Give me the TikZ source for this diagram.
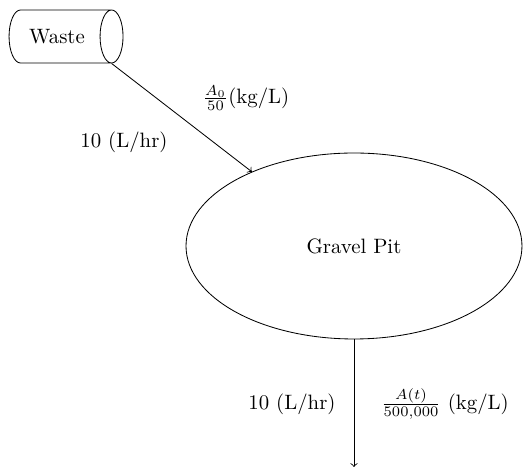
\documentclass[tikz,border=0pt]{standalone}
\usetikzlibrary{shapes.geometric}
\begin{document}
\begin{tikzpicture}[x=0.4807pt,y=-0.4807pt,
  tank/.style={draw,cylinder,shape aspect=1,minimum height=54.8pt,minimum width=25.5pt,inner sep=2pt},
  pit/.style={draw,ellipse,inner sep=0pt,minimum width=161.5pt,minimum height=89.4pt},
  lbl/.style={inner sep=1pt},
  flow/.style={->}]
\useasboundingbox (0,0) rectangle (523,472);
\node[tank] (waste) at (57,36.5) {Waste};
\node[pit] (gp) at (354,246) {Gravel Pit};
\draw[flow] (waste.after top) -- (gp.144);
\coordinate (out) at (gp.south |- 0,467);
\draw[flow] (gp.south) -- (out);
\node[lbl] (l1) at (246,98) {$\frac{A_0}{50}$(kg/L)};
\node[lbl] (l2) at (124,142) {10 (L/hr)};
\node[lbl] (l3) at (292,404) {10 (L/hr)};
\node[lbl] (l4) at (445,404) {$\frac{A(t)}{500{,}000}$ (kg/L)};
\end{tikzpicture}
\end{document}
